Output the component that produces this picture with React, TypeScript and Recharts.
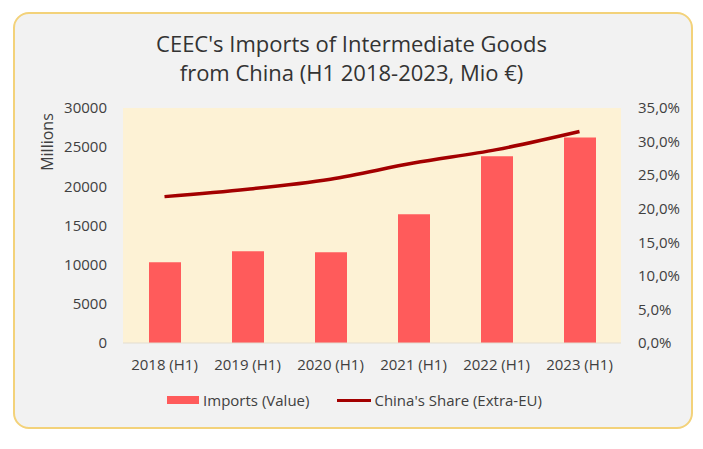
import { ComposedChart, Bar, Line, XAxis, YAxis, CartesianGrid } from "recharts";

const years = ["2018 (H1)", "2019 (H1)", "2020 (H1)", "2021 (H1)", "2022 (H1)", "2023 (H1)"];
const imports = [10300, 11700, 11600, 16450, 23850, 26250];
const chinaShare = [21.8, 22.9, 24.4, 26.8, 28.8, 31.5];
const leftTicks = [0, 5000, 10000, 15000, 20000, 25000, 30000];
const rightTicks = [0, 5, 10, 15, 20, 25, 30, 35];

const data = years.map((year, i) => ({ year, imports: imports[i], share: chinaShare[i] }));

const font = "'Open Sans', sans-serif";
const textColor = "#404040";
const barColor = "#ff5b5b";
const lineColor = "#a30000";

const fmtPct = (v: number) => v.toFixed(1).replace(".", ",") + "%";

export default function App() {
  return (
    <div style={{ position: "fixed", left: 0, top: 0, width: 703, height: 449, background: "#fff" }}>
      <div
        style={{
          position: "absolute",
          left: 13,
          top: 12,
          width: 676,
          height: 413,
          border: "2px solid #f3d27a",
          borderRadius: 16,
          background: "#f2f2f2",
        }}
      />
      <div
        style={{
          position: "absolute",
          left: 0,
          top: 29,
          width: 703,
          textAlign: "center",
          fontFamily: font,
          fontSize: 22,
          lineHeight: "29px",
          color: "#333",
        }}
      >
        CEEC's Imports of Intermediate Goods
        <br />
        from China (H1 2018-2023, Mio €)
      </div>
      <div
        style={{
          position: "absolute",
          left: 47,
          top: 142,
          transform: "translate(-50%, -50%) rotate(-90deg)",
          fontFamily: font,
          fontSize: 16,
          color: textColor,
          whiteSpace: "nowrap",
        }}
      >
        Millions
      </div>
      <div style={{ position: "absolute", left: 0, top: 0 }}>
        <ComposedChart width={703} height={449} data={data} margin={{ top: 108, right: 12, bottom: 76, left: 63 }}>
          <CartesianGrid fill="#fdf2d5" stroke="none" horizontal={false} vertical={false} />
          <XAxis
            dataKey="year"
            height={30}
            tickLine={false}
            axisLine={{ stroke: "#e2ddd0", strokeWidth: 1 }}
            tickMargin={10}
            interval={0}
            tick={{ fill: textColor, fontSize: 15, fontFamily: font }}
          />
          <YAxis
            yAxisId="left"
            domain={[0, 30000]}
            ticks={leftTicks}
            width={60}
            tickLine={false}
            axisLine={false}
            tickMargin={10}
            tick={{ fill: textColor, fontSize: 15, fontFamily: font }}
          />
          <YAxis
            yAxisId="right"
            orientation="right"
            domain={[0, 35]}
            ticks={rightTicks}
            width={70}
            tickLine={false}
            axisLine={false}
            tickMargin={11}
            tickFormatter={fmtPct}
            tick={{ fill: textColor, fontSize: 15, fontFamily: font, textAnchor: "start" }}
          />
          <Bar yAxisId="left" dataKey="imports" name="Imports (Value)" fill={barColor} barSize={32} isAnimationActive={false} />
          <Line
            yAxisId="right"
            type="monotone"
            dataKey="share"
            name="China's Share (Extra-EU)"
            stroke={lineColor}
            strokeWidth={3.5}
            dot={false}
            activeDot={false}
            isAnimationActive={false}
          />
        </ComposedChart>
      </div>
      <div
        style={{
          position: "absolute",
          left: 0,
          top: 390,
          width: 703,
          display: "flex",
          justifyContent: "center",
          alignItems: "center",
          fontFamily: font,
          fontSize: 15,
          color: textColor,
          paddingLeft: 6,
          boxSizing: "border-box",
        }}
      >
        <span style={{ display: "inline-block", width: 32, height: 8, background: barColor, marginRight: 4 }} />
        <span style={{ marginRight: 28 }}>Imports (Value)</span>
        <span style={{ display: "inline-block", width: 34, height: 3, background: lineColor, marginRight: 3 }} />
        <span>China's Share (Extra-EU)</span>
      </div>
    </div>
  );
}
